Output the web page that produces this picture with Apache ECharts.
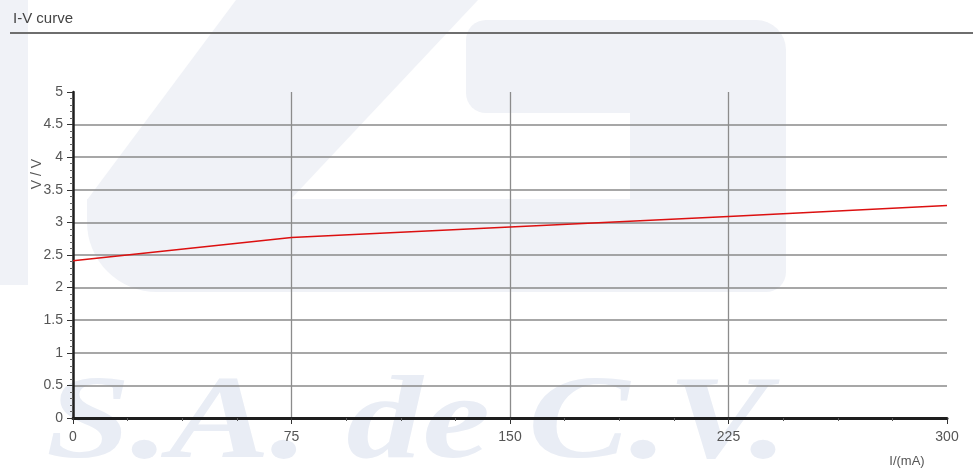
<!DOCTYPE html>
<html>
<head>
<meta charset="utf-8">
<script src="https://cdn.jsdelivr.net/npm/echarts@6/dist/echarts.min.js"></script>
<style>
html,body{margin:0;padding:0;background:#fff;}
#c{width:973px;height:469px;}
</style>
</head>
<body>
<div id="c"></div>
<script>
// ---- data ----
const currentMA = [0, 75, 150, 225, 300];
const voltageV = [2.41, 2.77, 2.93, 3.09, 3.26];
const xTicks = [0, 75, 150, 225, 300];
const yTicks = [0, 0.5, 1, 1.5, 2, 2.5, 3, 3.5, 4, 4.5, 5];
const titleText = 'I-V curve';
const xName = 'I/(mA)';
const yName = 'V / V';
const watermarkText = 'S.A. de C.V.';

const FONT = '"Liberation Sans", Arial, sans-serif';
const WM = '#f0f2f7';

const chart = echarts.init(document.getElementById('c'), null, {renderer: 'canvas'});
chart.setOption({
  animation: false,
  backgroundColor: '#ffffff',
  title: {
    text: titleText, left: 8, top: 6,
    textStyle: {fontFamily: FONT, fontSize: 15, fontWeight: 'normal', color: '#444'}
  },
  graphic: [
    // faint watermark (background decoration)
    {type: 'rect', z: -100, silent: true, shape: {x: 0, y: 0, width: 28, height: 285}, style: {fill: WM}},
    {type: 'polygon', z: -100, silent: true, shape: {points: [[236,0],[478,0],[290,200],[87,200]]}, style: {fill: WM}},
    {type: 'rect', z: -100, silent: true, shape: {x: 87, y: 199, width: 699, height: 93, r: [0,0,20,70]}, style: {fill: WM}},
    {type: 'rect', z: -100, silent: true, shape: {x: 630, y: 20, width: 156, height: 180, r: [0,30,0,0]}, style: {fill: WM}},
    {type: 'rect', z: -100, silent: true, shape: {x: 466, y: 20, width: 165, height: 93, r: [20,0,0,20]}, style: {fill: WM}},
    {type: 'text', z: -100, silent: true, x: 46, y: 368, scaleX: 1.29,
      style: {text: watermarkText, fontFamily: '"Liberation Serif", "DejaVu Serif", serif', fontStyle: 'italic', fontWeight: 'bold', fontSize: 118, fill: '#e9edf5'}},
    // header rule
    {type: 'line', z: 10, silent: true, shape: {x1: 10, y1: 33, x2: 973, y2: 33}, style: {stroke: '#6e6e6e', lineWidth: 2}}
  ],
  grid: {left: 73, right: 26, top: 92, bottom: 51, containLabel: false},
  xAxis: {
    type: 'value', min: xTicks[0], max: xTicks[xTicks.length - 1], interval: xTicks[1] - xTicks[0],
    name: xName, nameLocation: 'end', nameGap: -40, nameMoveOverlap: false,
    nameTextStyle: {fontFamily: FONT, fontSize: 13, color: '#555', align: 'center', verticalAlign: 'top', padding: [37, 0, 0, 0]},
    axisLine: {show: true, onZero: false, lineStyle: {color: '#1e1e1e', width: 3}},
    axisTick: {show: true, length: 6, lineStyle: {color: '#333', width: 1}},
    minorTick: {show: true, splitNumber: 4, length: 3, lineStyle: {color: '#555', width: 1}},
    axisLabel: {margin: 12, fontFamily: FONT, fontSize: 14, color: '#555'},
    splitLine: {show: true, showMinLine: false, showMaxLine: false, lineStyle: {color: '#8c8c8c', width: 1.3}}
  },
  yAxis: {
    type: 'value', min: yTicks[0], max: yTicks[yTicks.length - 1], interval: yTicks[1] - yTicks[0],
    name: yName, nameLocation: 'middle', nameGap: 29, nameRotate: 90, nameMoveOverlap: false,
    nameTextStyle: {fontFamily: FONT, fontSize: 14, color: '#555', padding: [0, 0, 0, 162]},
    axisLine: {show: true, onZero: false, lineStyle: {color: '#1e1e1e', width: 2.5}},
    axisTick: {show: true, length: 6, lineStyle: {color: '#333', width: 1}},
    minorTick: {show: true, splitNumber: 5, length: 3, lineStyle: {color: '#666', width: 1}},
    axisLabel: {margin: 10, fontFamily: FONT, fontSize: 14, color: '#555'},
    splitLine: {show: true, showMinLine: false, showMaxLine: false, lineStyle: {color: '#8a8a8a', width: 1.5}}
  },
  series: [{
    type: 'line',
    data: currentMA.map((x, i) => [x, voltageV[i]]),
    showSymbol: false,
    symbol: 'none',
    lineStyle: {color: '#dc1010', width: 1.5},
    z: 5
  }]
});
</script>
</body>
</html>
